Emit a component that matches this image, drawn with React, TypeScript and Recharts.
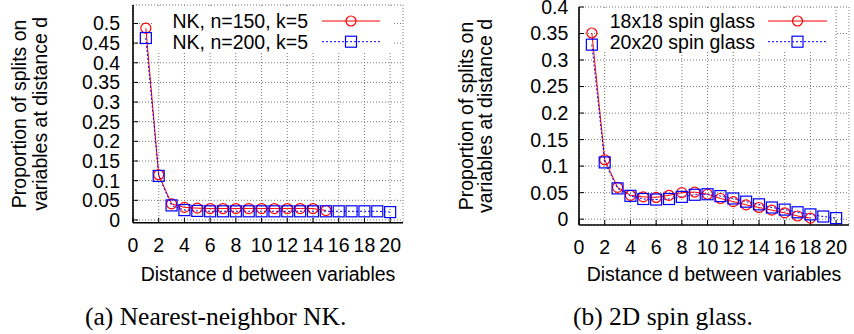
import React from "react";
import { LineChart, Line, XAxis, YAxis, CartesianGrid, Legend, Label } from "recharts";

// distance d = 1..20
const DISTANCES = [1, 2, 3, 4, 5, 6, 7, 8, 9, 10, 11, 12, 13, 14, 15, 16, 17, 18, 19, 20];
const X_TICKS = [0, 2, 4, 6, 8, 10, 12, 14, 16, 18, 20];
const NK_Y_TICKS = [0, 0.05, 0.1, 0.15, 0.2, 0.25, 0.3, 0.35, 0.4, 0.45, 0.5];
const SG_Y_TICKS = [0, 0.05, 0.1, 0.15, 0.2, 0.25, 0.3, 0.35, 0.4];

const NK_150 = [0.488, 0.115, 0.041, 0.032, 0.030, 0.029, 0.029, 0.029, 0.029, 0.029, 0.029, 0.029, 0.029, 0.029, 0.024];
const NK_200 = [0.463, 0.112, 0.037, 0.025, 0.023, 0.022, 0.022, 0.022, 0.022, 0.022, 0.022, 0.022, 0.022, 0.022, 0.022, 0.022, 0.022, 0.022, 0.022, 0.020];
const SG_18 = [0.351, 0.112, 0.060, 0.045, 0.042, 0.041, 0.045, 0.050, 0.051, 0.047, 0.039, 0.033, 0.027, 0.022, 0.017, 0.012, 0.006, 0.002];
const SG_20 = [0.329, 0.107, 0.058, 0.044, 0.038, 0.037, 0.038, 0.042, 0.046, 0.047, 0.0435, 0.039, 0.033, 0.028, 0.022, 0.018, 0.013, 0.009, 0.005, 0.002];

const NK_NAMES = ["NK, n=150, k=5", "NK, n=200, k=5"];
const SG_NAMES = ["18x18 spin glass", "20x20 spin glass"];
const CAPTIONS = ["(a) Nearest-neighbor NK.", "(b) 2D spin glass."];
const Y_LABEL = ["Proportion of splits on", "variables at distance d"];
const X_LABEL = "Distance d between variables";

const RED = "#ff0000";
const BLUE = "#0000ff";
const FONT = "'Liberation Sans', Arial, sans-serif";
const FS = 19.5;

const toPoints = (vals: number[]) => vals.map((v, i) => ({ d: DISTANCES[i], p: v }));

const circleDot = (props: any) => {
  const { cx, cy, index } = props;
  if (cx == null || cy == null) return <g key={index} />;
  return <circle key={index} cx={cx} cy={cy} r={5} fill="none" stroke={RED} strokeWidth={1.2} />;
};

const squareDot = (props: any) => {
  const { cx, cy, index } = props;
  if (cx == null || cy == null) return <g key={index} />;
  return <rect key={index} x={cx - 5.5} y={cy - 5.5} width={11} height={11} fill="none" stroke={BLUE} strokeWidth={1.2} />;
};

interface PanelProps {
  left: number;
  names: string[];
  a: number[];
  b: number[];
  yDomain: [number, number];
  yTicks: number[];
  margin: { top: number; right: number; bottom: number; left: number };
  yTickMargin: number;
  xLabelDy: number;
  yLabelX: [number, number];
  legend: { x: number; y: number; w: number; h: number; textRight: number; lx1: number; lx2: number; rows: [number, number] };
}

function Panel(p: PanelProps) {
  const lg = p.legend;
  const renderLegend = (props: any) => {
    const items = props.payload || [];
    return (
      <div style={{ width: lg.w, height: lg.h, background: "#fff", overflow: "visible" }}>
        <svg width={lg.w} height={lg.h} style={{ overflow: "visible", display: "block" }}>
          {items.map((it: any, i: number) => {
            const cy = lg.rows[i] - lg.y;
            const mx = (lg.lx1 + lg.lx2) / 2 - lg.x;
            return (
              <g key={it.value}>
                <text x={lg.textRight - lg.x} y={cy + 7} textAnchor="end" fontFamily={FONT} fontSize={FS} fill="#000">
                  {it.value}
                </text>
                <line x1={lg.lx1 - lg.x} x2={lg.lx2 - lg.x} y1={cy} y2={cy} stroke={it.color} strokeWidth={1}
                  strokeDasharray={i === 1 ? "2 2" : undefined} />
                {i === 0 ? (
                  <circle cx={mx} cy={cy} r={5} fill="none" stroke={RED} strokeWidth={1.2} />
                ) : (
                  <rect x={mx - 5.5} y={cy - 5.5} width={11} height={11} fill="none" stroke={BLUE} strokeWidth={1.2} />
                )}
              </g>
            );
          })}
        </svg>
      </div>
    );
  };

  const tickStyle = { fontSize: FS, fontFamily: FONT, fill: "#000" };
  const axisLine = { stroke: "#000", strokeWidth: 1.6 };
  const tickLine = { stroke: "#000", strokeWidth: 1 };

  return (
    <div style={{ position: "absolute", left: p.left, top: 0 }}>
      <LineChart width={427} height={290} margin={p.margin} style={{ overflow: "visible" }}>
        <CartesianGrid stroke="#777" strokeDasharray="1 2" strokeWidth={1} />
        <XAxis
          type="number"
          dataKey="d"
          domain={[0, 21]}
          allowDataOverflow
          ticks={X_TICKS}
          interval={0}
          height={40}
          tick={tickStyle}
          tickSize={-5}
          tickMargin={20.5}
          axisLine={axisLine}
          tickLine={tickLine}
        >
          <Label
            content={(lp: any) => {
              const vb = lp.viewBox;
              return (
                <text x={vb.x + vb.width / 2} y={vb.y + p.xLabelDy} textAnchor="middle" fontFamily={FONT} fontSize={FS} fill="#000">
                  {X_LABEL}
                </text>
              );
            }}
          />
        </XAxis>
        <XAxis xAxisId="top" orientation="top" type="number" dataKey="d" domain={[0, 21]} allowDataOverflow ticks={X_TICKS}
          interval={0} height={0} tickSize={-5} tickFormatter={() => ""} axisLine={axisLine} tickLine={tickLine} />
        <YAxis
          type="number"
          domain={p.yDomain}
          allowDataOverflow
          ticks={p.yTicks}
          interval={0}
          width={60}
          tick={tickStyle}
          tickSize={-5}
          tickMargin={p.yTickMargin}
          axisLine={axisLine}
          tickLine={tickLine}
        >
          <Label
            content={() => {
              const cy = p.margin.top + (290 - p.margin.top - p.margin.bottom - 40) / 2;
              return (
                <g>
                  {Y_LABEL.map((s, i) => (
                    <text key={s} x={p.yLabelX[i]} y={cy} transform={`rotate(-90 ${p.yLabelX[i]} ${cy})`} textAnchor="middle"
                      fontFamily={FONT} fontSize={FS} fill="#000">
                      {s}
                    </text>
                  ))}
                </g>
              );
            }}
          />
        </YAxis>
        <YAxis yAxisId="right" orientation="right" type="number" domain={p.yDomain} allowDataOverflow ticks={p.yTicks}
          interval={0} width={0} tickSize={-5} tickFormatter={() => ""} axisLine={axisLine} tickLine={tickLine} />
        <Legend
          layout="vertical"
          align="center"
          verticalAlign="middle"
          content={renderLegend}
          wrapperStyle={{ left: lg.x, top: lg.y, width: lg.w, height: lg.h }}
        />
        <Line data={toPoints(p.a)} dataKey="p" name={p.names[0]} stroke={RED} strokeWidth={1} dot={circleDot}
          isAnimationActive={false} type="linear" />
        <Line data={toPoints(p.b)} dataKey="p" name={p.names[1]} stroke={BLUE} strokeWidth={1} strokeDasharray="2 2"
          dot={squareDot} isAnimationActive={false} type="linear" />
      </LineChart>
    </div>
  );
}

export default function App() {
  return (
    <div style={{ position: "absolute", left: 0, top: 0, width: 854, height: 334, background: "#fff", overflow: "hidden" }}>
      <Panel
        left={0}
        names={NK_NAMES}
        a={NK_150}
        b={NK_200}
        yDomain={[-0.007, 0.547]}
        yTicks={NK_Y_TICKS}
        margin={{ top: 5, right: 24, bottom: 27.3, left: 73 }}
        yTickMargin={18}
        xLabelDy={58.3}
        yLabelX={[26, 46.7]}
        legend={{ x: 152, y: 6, w: 241, h: 45, textRight: 308, lx1: 322, lx2: 380, rows: [21, 41.7] }}
      />
      <Panel
        left={427}
        names={SG_NAMES}
        a={SG_18}
        b={SG_20}
        yDomain={[-0.011, 0.4]}
        yTicks={SG_Y_TICKS}
        margin={{ top: 7, right: 5, bottom: 25, left: 92 }}
        yTickMargin={15.7}
        xLabelDy={56}
        yLabelX={[46, 65]}
        legend={{ x: 173, y: 8, w: 235, h: 43, textRight: 328, lx1: 341, lx2: 400, rows: [21, 41.7] }}
      />
      <div style={{ position: "absolute", left: 85, top: 302, fontFamily: "'Liberation Serif', 'Times New Roman', serif", fontSize: 25.5, whiteSpace: "pre", lineHeight: "30px" }}>
        {CAPTIONS[0]}
      </div>
      <div style={{ position: "absolute", left: 573, top: 302, fontFamily: "'Liberation Serif', 'Times New Roman', serif", fontSize: 25.5, whiteSpace: "pre", lineHeight: "30px" }}>
        {CAPTIONS[1]}
      </div>
    </div>
  );
}
